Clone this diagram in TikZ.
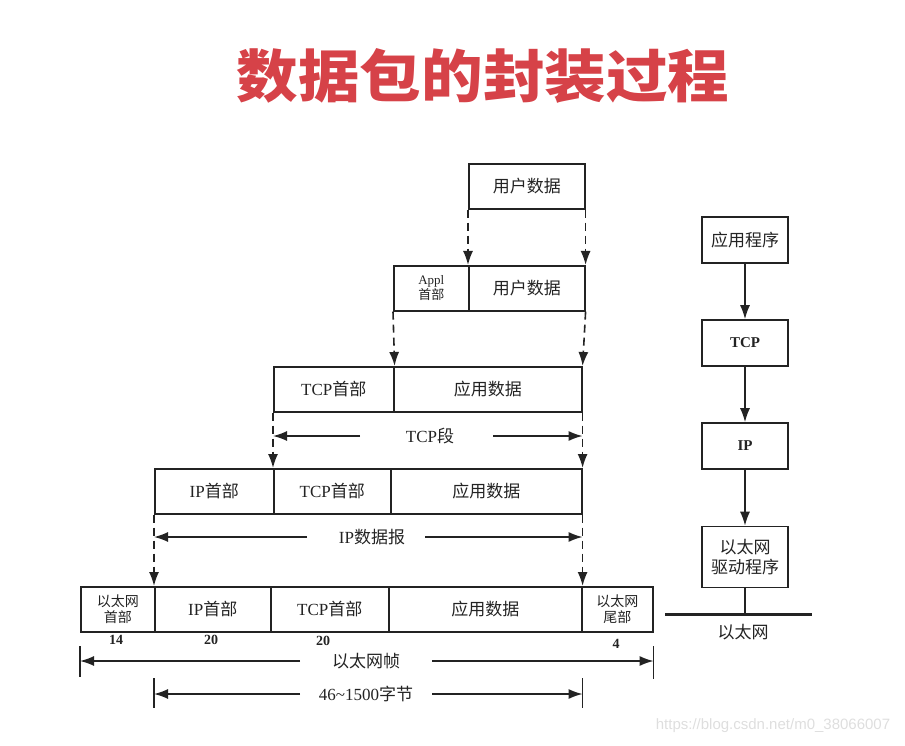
\documentclass[tikz,border=0pt]{standalone}
\usepackage{fontspec}
\usepackage{graphicx}
\setmainfont{Liberation Serif}
\newfontfamily\cjk{Noto Sans CJK SC}
\newfontfamily\wmfont{Liberation Sans}
\usetikzlibrary{arrows.meta,calc}
\definecolor{titlered}{RGB}{214,66,72}
\definecolor{ink}{RGB}{35,35,35}
\definecolor{wmgray}{RGB}{222,222,222}
\begin{document}
\begin{tikzpicture}[x=1pt,y=-1pt,
  every node/.style={text=ink},
  cell/.style={draw=ink, line width=1.6pt, inner sep=0pt, minimum height=45pt,
    anchor=north west, align=center, font=\fontsize{17}{19}\selectfont},
  layer/.style={draw=ink, line width=1.6pt, inner sep=0pt, minimum width=86pt,
    align=center, font=\fontsize{17}{20}\selectfont},
  lbl/.style={inner sep=0pt, font=\fontsize{17}{19}\selectfont},
  num/.style={inner sep=0pt, font=\bfseries\fontsize{14}{15}\selectfont},
  darr/.style={draw=ink, line width=1.6pt, dash pattern=on 8pt off 5pt,
    -{Latex[length=14pt,width=10pt]}},
  arr/.style={draw=ink, line width=1.5pt, -{Latex[length=14pt,width=10pt]}},
  tick/.style={draw=ink, line width=1.5pt},
  bus/.style={draw=ink, line width=3pt},
  titlestyle/.style={inner sep=0pt, text=titlered, font=\fontsize{57}{57}\selectfont},
  wm/.style={inner sep=0pt, text=wmgray, font=\wmfont\fontsize{15}{15}\selectfont}
]
\useasboundingbox (0,0) rectangle (905,746);

% title
\node[titlestyle] (title) at (483,76) {\scalebox{1.08}[1]{\cjk\bfseries 数据包的封装过程}};

% row 1
\node[cell, minimum width=116pt] (u1) at (468,163) {\cjk 用户数据};
% row 2
\node[cell, minimum width=75pt, font=\fontsize{13}{13.5}\selectfont] (a2) at (393,265) {Appl\\{\cjk 首部}};
\node[cell, minimum width=116pt] (u2) at (468,265) {\cjk 用户数据};
% row 3
\node[cell, minimum width=120pt] (t3) at (273,366) {TCP{\cjk 首部}};
\node[cell, minimum width=188pt] (d3) at (393,366) {\cjk 应用数据};
% row 4
\node[cell, minimum width=119pt] (i4) at (154,468) {IP{\cjk 首部}};
\node[cell, minimum width=117pt] (t4) at (273,468) {TCP{\cjk 首部}};
\node[cell, minimum width=191pt] (d4) at (390,468) {\cjk 应用数据};
% row 5
\node[cell, minimum width=74pt, font=\fontsize{14}{15.5}\selectfont] (e5) at (80,586) {{\cjk 以太网}\\{\cjk 首部}};
\node[cell, minimum width=116pt] (i5) at (154,586) {IP{\cjk 首部}};
\node[cell, minimum width=118pt] (t5) at (270,586) {TCP{\cjk 首部}};
\node[cell, minimum width=193pt] (d5) at (388,586) {\cjk 应用数据};
\node[cell, minimum width=71pt, font=\fontsize{14}{15.5}\selectfont] (f5) at (581,586) {{\cjk 以太网}\\{\cjk 尾部}};

% dashed encapsulation arrows
\draw[darr] (u1.south west) -- (u2.north west);
\draw[darr] (u1.south east) -- (u2.north east);
\draw[darr] (a2.south west) -- (t3.north east);
\draw[darr] (u2.south east) -- (d3.north east);
\draw[darr] (t3.south west) -- (t4.north west);
\draw[darr] (d3.south east) -- (d4.north east);
\draw[darr] (i4.south west) -- (i5.north west);
\draw[darr] (d4.south east) -- (d5.north east);

% TCP segment
\node[lbl] (tcpseg) at (430,436) {TCP{\cjk 段}};
\coordinate (tcpL) at (360,436);
\coordinate (tcpR) at (493,436);
\draw[arr] (tcpL) -- (t3.south west |- tcpseg);
\draw[arr] (tcpR) -- (d3.south east |- tcpseg);

% IP datagram
\node[lbl] (ipdg) at (372,537) {IP{\cjk 数据报}};
\coordinate (ipL) at (307,537);
\coordinate (ipR) at (425,537);
\draw[arr] (ipL) -- (i4.south west |- ipdg);
\draw[arr] (ipR) -- (d4.south east |- ipdg);

% sizes
\node[num] (n14) at (116,640) {14};
\node[num] (n20a) at (211,640) {20};
\node[num] (n20b) at (323,641) {20};
\node[num] (n4) at (616,644) {4};

% Ethernet frame
\node[lbl] (frame) at (366,661) {\cjk 以太网帧};
\coordinate (frL) at (300,661);
\coordinate (frR) at (432,661);
\draw[tick] ([yshift=15pt]e5.south west |- frame) -- ([yshift=-16pt]e5.south west |- frame);
\draw[tick] ([yshift=15pt]f5.south east |- frame) -- ([yshift=-18pt]f5.south east |- frame);
\draw[arr] (frL) -- (e5.south west |- frame);
\draw[arr] (frR) -- (f5.south east |- frame);

% 46~1500 bytes
\node[lbl] (bytes) at (366,694) {46\textasciitilde1500{\cjk 字节}};
\coordinate (byL) at (300,694);
\coordinate (byR) at (432,694);
\draw[tick] ([yshift=16pt]i5.south west |- bytes) -- ([yshift=-14pt]i5.south west |- bytes);
\draw[tick] ([yshift=16pt]d5.south east |- bytes) -- ([yshift=-14pt]d5.south east |- bytes);
\draw[arr] (byL) -- (i5.south west |- bytes);
\draw[arr] (byR) -- (d5.south east |- bytes);

% protocol stack
\node[layer, minimum height=46pt] (app) at (745,240) {\cjk 应用程序};
\node[layer, minimum height=46pt, font=\bfseries\fontsize{15}{17}\selectfont] (tcp) at (745,343) {TCP};
\node[layer, minimum height=46pt, font=\bfseries\fontsize{15}{17}\selectfont] (ip) at (745,446) {IP};
\node[layer, minimum height=61pt] (eth) at (745,557) {{\cjk 以太网}\\{\cjk 驱动程序}};
\draw[arr] (app) -- (tcp);
\draw[arr] (tcp) -- (ip);
\draw[arr] (ip) -- (eth);
\coordinate (busL) at (665,614);
\coordinate (busR) at (812,614);
\coordinate (busC) at (745,614);
\draw[tick] (eth) -- (busC);
\draw[bus] (busL) -- (busR);
\node[lbl] (ethlbl) at (743,632) {\cjk 以太网};

% watermark
\node[wm] (wmk) at (773,726) {https://blog.csdn.net/m0\_38066007};
\end{tikzpicture}
\end{document}
